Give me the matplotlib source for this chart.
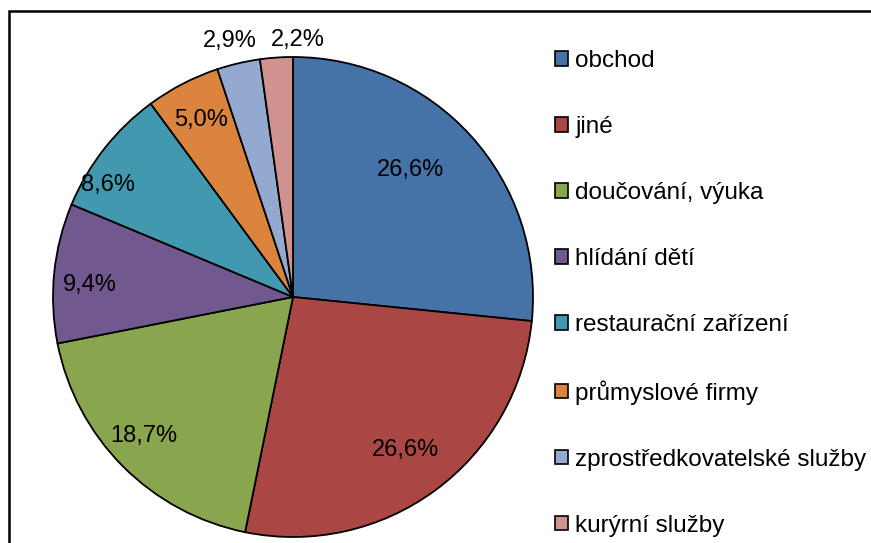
import numpy as np
import matplotlib.pyplot as plt
from matplotlib.patches import Rectangle, Patch

plt.rcParams['font.family'] = ['Liberation Sans', 'DejaVu Sans']

categories = ['obchod', 'jiné', 'doučování, výuka', 'hlídání dětí',
              'restaurační zařízení', 'průmyslové firmy',
              'zprostředkovatelské služby', 'kurýrní služby']
shares = [26.6, 26.6, 18.7, 9.4, 8.6, 5.0, 2.9, 2.2]
colors = ['#4572A7', '#AA4643', '#89A54E', '#71588F',
          '#4198AF', '#DB843D', '#93A9CF', '#D19392']
# where each percentage label sits: distance (fraction of radius) and angle nudge (deg)
label_dist = [0.72, 0.79, 0.85, 0.85, 0.90, 0.83, 1.10, 1.07]
label_turn = [5, 0, -2, 2.4, 7, 0, 0.7, -5]

W, H = 871, 543
fig = plt.figure(figsize=(W / 100, H / 100), dpi=100)

cx, cy, r = 293, 297, 240
ax = fig.add_axes([(cx - r) / W, (H - cy - r) / H, 2 * r / W, 2 * r / H])

wedges, _ = ax.pie(shares, colors=colors, startangle=90, counterclock=False,
                   radius=1, wedgeprops=dict(edgecolor='black', linewidth=1.3))
ax.set_xlim(-1, 1)
ax.set_ylim(-1, 1)
ax.set_aspect('equal')

for w, v, d, t in zip(wedges, shares, label_dist, label_turn):
    ang = np.deg2rad((w.theta1 + w.theta2) / 2 + t)
    ax.text(d * np.cos(ang), d * np.sin(ang), f'{v:.1f}%'.replace('.', ','),
            ha='center', va='center', fontsize=17, clip_on=False)

handles = [Patch(facecolor=c, edgecolor='black', linewidth=1.2) for c in colors]
fig.legend(handles, categories, loc='upper left',
           bbox_to_anchor=(555 / W, 1 - 50 / H), frameon=False,
           fontsize=17.5, handlelength=0.53, handleheight=0.53,
           handletextpad=0.3, labelspacing=1.81, borderpad=0, borderaxespad=0)

fig.patches.append(Rectangle((9 / W, -0.1), 1.2, 1.1 - 11 / H,
                             transform=fig.transFigure, fill=False,
                             edgecolor='black', linewidth=1.8))

fig.savefig('out.png', dpi=100)
